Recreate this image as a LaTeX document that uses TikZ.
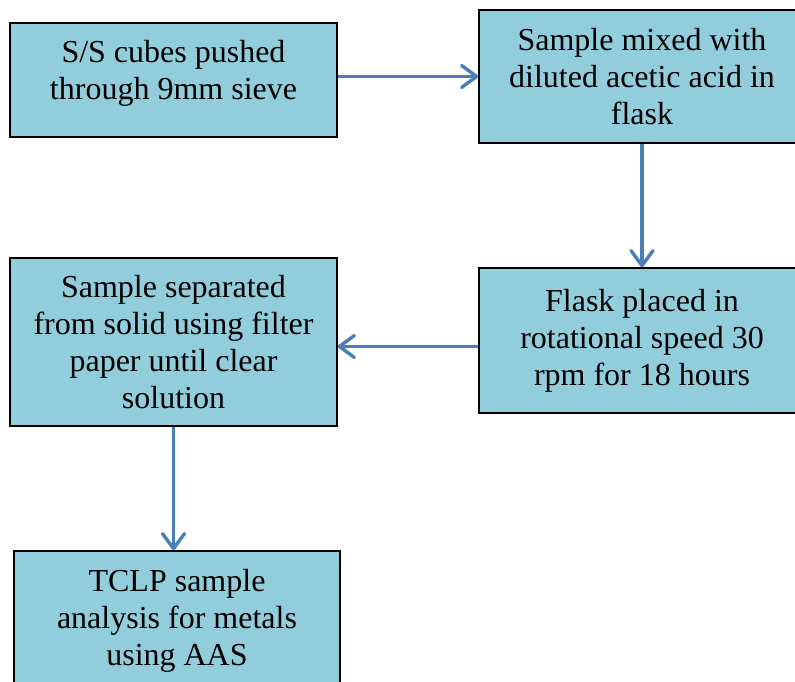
\documentclass[tikz,border=0pt]{standalone}
\usepackage{fontspec}
\setmainfont{Liberation Serif}
\usetikzlibrary{arrows.meta}
\definecolor{boxfill}{HTML}{92CDDC}
\definecolor{flowblue}{HTML}{4A7EBB}
\tikzset{
  stepbox/.style={draw=black, line width=1.4pt, fill=boxfill, inner sep=0pt,
    align=center, font=\fontsize{32}{37}\selectfont},
  boxtext/.style={inner sep=0pt, align=center, font=\fontsize{32}{37}\selectfont},
  flow/.style={draw=flowblue, line width=3.4pt,
    -{Straight Barb[length=15pt,width=22pt,round]}}
}
\begin{document}
\begin{tikzpicture}[x=1pt,y=-1pt]
  \useasboundingbox (0,0) rectangle (795,682);
  \clip (0,0) rectangle (795,682);
  % process steps
  \node[stepbox, minimum width=327pt, minimum height=114pt] (b1) at (173.5,80) {};
  \node[boxtext] (t1) at (173.5,73) {S/S cubes pushed\\through 9mm sieve};
  \node[stepbox, minimum width=326pt, minimum height=133pt] (b2) at (642,76.5)
    {Sample mixed with\\diluted acetic acid in\\flask};
  \node[stepbox, minimum width=326pt, minimum height=145pt] (b3) at (642,340.5)
    {Flask placed in\\rotational speed 30\\rpm for 18 hours};
  \node[stepbox, minimum width=327pt, minimum height=168pt] (b4) at (173.5,342)
    {Sample separated\\from solid using filter\\paper until clear\\solution};
  \node[stepbox, minimum width=326pt, minimum height=140pt] (b5) at (177,621)
    {TCLP sample\\analysis for metals\\using AAS};
  % connectors
  \draw[flow] (b1.east |- b2.west) -- (b2.west);
  \draw[flow] (b2.south) -- (b3.north);
  \draw[flow] ([yshift=-6pt]b3.west) -- ([yshift=-6pt]b3.west -| b4.east);
  \draw[flow] (b4.south) -- (b4.south |- b5.north);
\end{tikzpicture}
\end{document}
